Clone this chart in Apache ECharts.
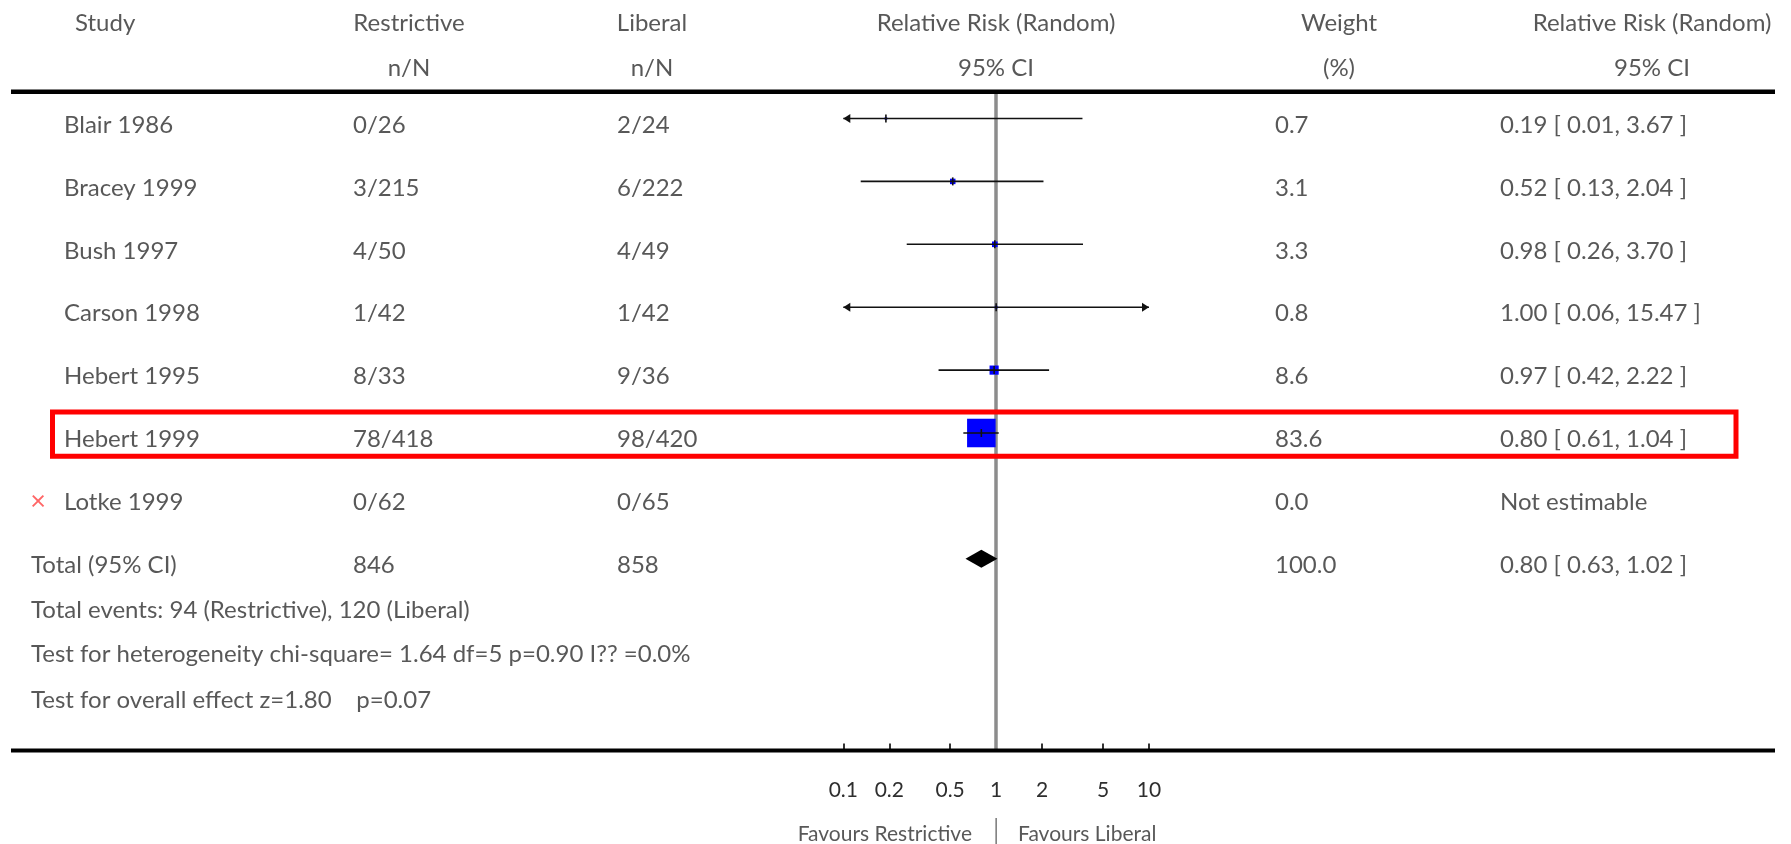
<!DOCTYPE html>
<html><head><meta charset="utf-8">
<script src="https://cdn.jsdelivr.net/npm/echarts@6.0.0/dist/echarts.min.js"></script>
<style>html,body{margin:0;padding:0;background:#fff}#c{width:1791px;height:844px}</style>
</head><body><div id="c"></div><script>
// ---------------- data ----------------
const studies     = ['Blair 1986','Bracey 1999','Bush 1997','Carson 1998','Hebert 1995','Hebert 1999','Lotke 1999'];
const restrictive = ['0/26','3/215','4/50','1/42','8/33','78/418','0/62'];
const liberal     = ['2/24','6/222','4/49','1/42','9/36','98/420','0/65'];
const rr          = [0.19, 0.52, 0.98, 1.00, 0.97, 0.80, null];
const ciLow       = [0.01, 0.13, 0.26, 0.06, 0.42, 0.61, null];
const ciHigh      = [3.67, 2.04, 3.70, 15.47, 2.22, 1.04, null];
const weights     = [0.7, 3.1, 3.3, 0.8, 8.6, 83.6, 0.0];
const excluded    = [false,false,false,false,false,false,true];
const highlightIndex = 5;

const totalLabel = 'Total (95% CI)';
const totalRestrictive = '846';
const totalLiberal = '858';
const totalRR = 0.80, totalLow = 0.63, totalHigh = 1.02, totalWeight = 100.0;

const notes = [
  'Total events: 94 (Restrictive), 120 (Liberal)',
  'Test for heterogeneity chi-square= 1.64 df=5 p=0.90 I?? =0.0%',
  'Test for overall effect z=1.80    p=0.07'
];
const headers1 = ['Study','Restrictive','Liberal','Relative Risk (Random)','Weight','Relative Risk (Random)'];
const headers2 = ['n/N','n/N','95% CI','(%)','95% CI'];
const tickValues = [0.1, 0.2, 0.5, 1, 2, 5, 10];
const tickLabels = ['0.1','0.2','0.5','1','2','5','10'];
const favourLeft = 'Favours Restrictive';
const favourRight = 'Favours Liberal';

// ---------------- layout ----------------
const W = 1791, H = 844;
const ROW0 = 118.5, ROWH = 62.9;       // pixel of row 0, pixel per row
const TEXT_DY = 6.5;
const PLOT_TOP = 91, PLOT_BOTTOM = 750.5;
const PLOT_LEFT = 843.3, PLOT_RIGHT = 1149;
const FONT = 'Lato';
const TXT = '#2e2e2e';
const FS = 24;
const rowOf = px => (px - TEXT_DY - ROW0) / ROWH;
const HDR1 = rowOf(23), HDR2 = rowOf(68.5);
const NOTE_ROWS = [rowOf(610), rowOf(654), rowOf(700)];
const FAV_ROW = rowOf(834);
const TOTAL_ROW = 7;
const COL = {note:31, cross:38, study:64, studyHdr:75, res:353, resHdr:409, lib:617, libHdr:652,
             rrHdr:996, w:1275, wHdr:1339, ci:1500, ciHdr:1652, favL:972, favR:1018};
const BOX_K = 3.12, TICK_H = 4, AR_L = 7, AR_W = 4.5, DIA_H = 9;
const L = Math.log10;
const X_MIN = L(tickValues[0]), X_MAX = L(tickValues[tickValues.length-1]);

const ciText = (e,l,h) => e.toFixed(2) + ' [ ' + l.toFixed(2) + ', ' + h.toFixed(2) + ' ]';

// ---------------- text items ----------------
const leftItems = [], centerItems = [], rightAlignItems = [], crossItems = [];
studies.forEach((s,i) => {
  leftItems.push([COL.study, i, s]);
  leftItems.push([COL.res, i, restrictive[i]]);
  leftItems.push([COL.lib, i, liberal[i]]);
  leftItems.push([COL.w, i, weights[i].toFixed(1)]);
  leftItems.push([COL.ci, i, rr[i] == null ? 'Not estimable' : ciText(rr[i], ciLow[i], ciHigh[i])]);
  if (excluded[i]) crossItems.push([COL.cross, i, '×']);
});
leftItems.push([COL.note, TOTAL_ROW, totalLabel]);
leftItems.push([COL.res, TOTAL_ROW, totalRestrictive]);
leftItems.push([COL.lib, TOTAL_ROW, totalLiberal]);
leftItems.push([COL.w, TOTAL_ROW, totalWeight.toFixed(1)]);
leftItems.push([COL.ci, TOTAL_ROW, ciText(totalRR, totalLow, totalHigh)]);
notes.forEach((n,k) => leftItems.push([COL.note, NOTE_ROWS[k], n]));
leftItems.push([COL.studyHdr, HDR1, headers1[0]]);
[COL.resHdr, COL.libHdr, COL.rrHdr, COL.wHdr, COL.ciHdr].forEach((x,k) => {
  centerItems.push([x, HDR1, headers1[k+1]]);
  centerItems.push([x, HDR2, headers2[k]]);
});
rightAlignItems.push([COL.favL, FAV_ROW, favourLeft]);
const favItems = [[COL.favR, FAV_ROW, favourRight]];

function textSeries(items, position, opts) {
  opts = opts || {};
  return {
    type: 'scatter', xAxisIndex: 0, yAxisIndex: 0, silent: true, symbolSize: 0.01,
    itemStyle: {color: 'rgba(0,0,0,0)'}, emphasis: {disabled: true}, animation: false, z: 5,
    data: items.map(it => ({value: [it[0], it[1]], name: it[2]})),
    label: {show: true, position: position, distance: 0, formatter: '{b}', offset: [0, TEXT_DY + (opts.dy || 0)],
            fontFamily: FONT, fontSize: opts.fontSize || FS, color: opts.color || TXT}
  };
}

// ---------------- forest data ----------------
const forestData = [];
studies.forEach((s,i) => {
  if (rr[i] != null) forestData.push([L(rr[i]), i, L(ciLow[i]), L(ciHigh[i]), weights[i]]);
});
const totalData = [[L(totalRR), TOTAL_ROW, L(totalLow), L(totalHigh)]];

const chart = echarts.init(document.getElementById('c'), null, {renderer: 'canvas'});
const option = {
  animation: false,
  backgroundColor: '#fff',
  grid: [
    {left: 0, right: 0, top: 0, bottom: 0},
    {left: PLOT_LEFT, right: W - PLOT_RIGHT, top: PLOT_TOP, bottom: H - PLOT_BOTTOM}
  ],
  xAxis: [
    {gridIndex: 0, type: 'value', min: 0, max: W, show: false},
    {gridIndex: 1, type: 'value', position: 'bottom', min: X_MIN, max: X_MAX,
     axisLine: {show: false, onZero: false}, splitLine: {show: false},
     axisTick: {show: true, inside: true, length: 7, customValues: tickValues.map(L),
                lineStyle: {color: '#000', width: 1.6}},
     axisLabel: {show: true, margin: 29, customValues: tickValues.map(L), fontFamily: FONT, fontSize: 21, color: TXT,
                 formatter: v => { const k = tickValues.findIndex(t => Math.abs(L(t) - v) < 1e-6); return k >= 0 ? tickLabels[k] : ''; }}}
  ],
  yAxis: [
    {gridIndex: 0, type: 'value', inverse: true, min: -ROW0 / ROWH, max: (H - ROW0) / ROWH, show: false},
    {gridIndex: 1, type: 'value', inverse: true, min: (PLOT_TOP - ROW0) / ROWH, max: (PLOT_BOTTOM - ROW0) / ROWH, show: false}
  ],
  series: [
    textSeries(leftItems, 'right'),
    textSeries(favItems, 'right', {fontSize: 21}),
    textSeries(centerItems, 'inside'),
    textSeries(rightAlignItems, 'left', {fontSize: 21}),
    textSeries(crossItems, 'inside', {color: '#ff4040', fontSize: 27, dy: -1}),
    { // highlight box
      type: 'custom', xAxisIndex: 0, yAxisIndex: 0, silent: true, z: 6,
      data: [[highlightIndex]],
      renderItem: (params, api) => {
        const r = api.value(0);
        const p1 = api.coord([52.5, r - 0.335]), p2 = api.coord([1736, r + 0.37]);
        return {type: 'rect', shape: {x: p1[0], y: p1[1], width: p2[0] - p1[0], height: p2[1] - p1[1]},
                style: {fill: 'none', stroke: '#ff0000', lineWidth: 5}};
      }
    },
    { // studies
      type: 'custom', xAxisIndex: 1, yAxisIndex: 1, silent: true, z: 4,
      encode: {x: [0, 2, 3], y: 1},
      data: forestData,
      renderItem: (params, api) => {
        const est = api.value(0), row = api.value(1), lo = api.value(2), hi = api.value(3), w = api.value(4);
        const c = api.coord([est, row]);
        const a = api.coord([Math.max(lo, X_MIN), row]);
        const b = api.coord([Math.min(hi, X_MAX), row]);
        const s = BOX_K * Math.sqrt(w);
        const ch = [
          {type: 'rect', shape: {x: c[0] - s/2, y: c[1] - s/2, width: s, height: s}, style: {fill: '#0000ff'}},
          {type: 'line', shape: {x1: a[0], y1: a[1], x2: b[0], y2: b[1]}, style: {stroke: '#111', lineWidth: 1.6}},
          {type: 'line', shape: {x1: c[0], y1: c[1] - TICK_H, x2: c[0], y2: c[1] + TICK_H}, style: {stroke: '#111', lineWidth: 1.6}}
        ];
        if (lo < X_MIN) ch.push({type: 'polygon', shape: {points: [[a[0], a[1]], [a[0] + AR_L, a[1] - AR_W], [a[0] + AR_L, a[1] + AR_W]]}, style: {fill: '#111'}});
        if (hi > X_MAX) ch.push({type: 'polygon', shape: {points: [[b[0], b[1]], [b[0] - AR_L, b[1] - AR_W], [b[0] - AR_L, b[1] + AR_W]]}, style: {fill: '#111'}});
        return {type: 'group', children: ch};
      }
    },
    { // total diamond + reference line
      type: 'custom', xAxisIndex: 1, yAxisIndex: 1, silent: true, z: 4,
      encode: {x: [0, 2, 3], y: 1},
      data: totalData,
      renderItem: (params, api) => {
        const row = api.value(1);
        const c = api.coord([api.value(0), row]), a = api.coord([api.value(2), row]), b = api.coord([api.value(3), row]);
        return {type: 'polygon', shape: {points: [[a[0], a[1]], [c[0], c[1] - DIA_H], [b[0], b[1]], [c[0], c[1] + DIA_H]]},
                style: {fill: '#000'}};
      },
      markLine: {silent: true, symbol: 'none', label: {show: false}, z: 3,
                 lineStyle: {color: '#8c8c8c', width: 3.5, type: 'solid'},
                 data: [{xAxis: L(1)}]}
    }
  ]
};
chart.setOption(option);

// rules and separator under the axis (decoration)
const refX = chart.convertToPixel({xAxisIndex: 1}, L(1));
chart.setOption({
  graphic: [
    {type: 'line', shape: {x1: 11, y1: 91.8, x2: 1775, y2: 91.8}, style: {stroke: '#000', lineWidth: 4.5}, z: 10},
    {type: 'line', shape: {x1: 11, y1: PLOT_BOTTOM, x2: 1775, y2: PLOT_BOTTOM}, style: {stroke: '#000', lineWidth: 4}, z: 10},
    {type: 'line', shape: {x1: refX, y1: 818, x2: refX, y2: H}, style: {stroke: '#777', lineWidth: 1.5}, z: 10}
  ]
});
</script></body></html>
